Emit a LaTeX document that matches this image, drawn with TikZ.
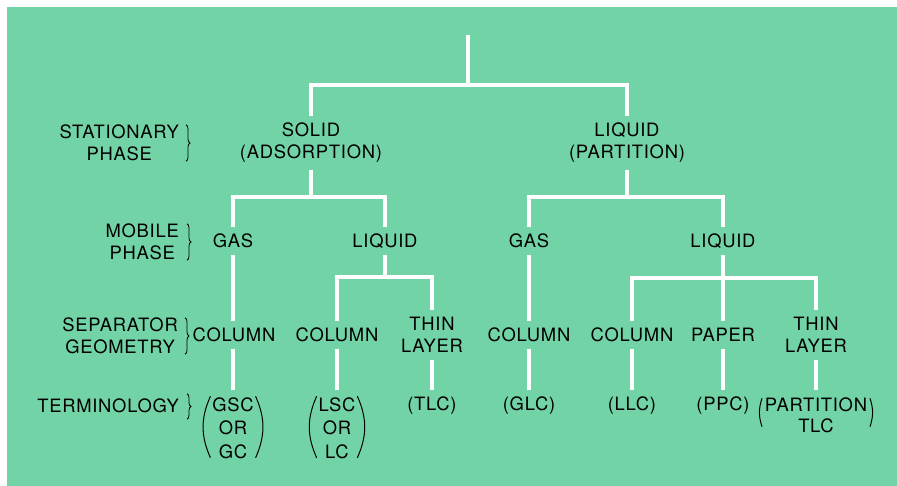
\documentclass[tikz,border=0pt]{standalone}
\usepackage{fontspec}
\setmainfont{TeX Gyre Heros}[LetterSpace=4]
\usepackage{xcolor}
\usetikzlibrary{decorations.pathreplacing}
\definecolor{bggreen}{RGB}{114,212,166}

\begin{document}
\begin{tikzpicture}[x=1pt,y=-1pt,
    every node/.style={font=\fontsize{18.4}{22}\selectfont, align=center, inner sep=0pt},
    item/.style={outer sep=7pt},
    side/.style={anchor=east},
    wire/.style={draw=white, line width=3.4pt},
    brc/.style={decorate, decoration={brace, amplitude=4pt}, line width=0.8pt},
    paren/.style={line width=1pt, line cap=round}]
      \useasboundingbox (0,0) rectangle (897,485);
      % page and green panel
      \fill[white] (0,0) rectangle (897,485);
      \fill[bggreen] (7,7) rectangle (905,495);

      % row titles
      \node[side] (stat) at (179,143) {STATIONARY\\PHASE};
      \node[side] (mob) at (179,242) {MOBILE\\PHASE};
      \node[side] (sep) at (178,336) {SEPARATOR\\GEOMETRY};
      \node[side] (term) at (179,406) {TERMINOLOGY};
      \draw[brc] ([xshift=7pt]stat.north east) -- ([xshift=7pt]stat.south east);
      \draw[brc] ([xshift=8pt]mob.north east) -- ([xshift=8pt]mob.south east);
      \draw[brc] ([xshift=7pt]sep.north east) -- ([xshift=7pt]sep.south east);
      \draw[brc] ([xshift=8pt,yshift=5pt]term.north east) -- ([xshift=8pt,yshift=-6pt]term.south east);

      % stationary phase
      \node[item] (sol) at (311,143) {SOLID\\(ADSORPTION)};
      \node[item] (liq) at (627,143) {LIQUID\\(PARTITION)};

      % mobile phase
      \node[item] (gas1) at (233,241) {GAS};
      \node[item] (liq1) at (385,241) {LIQUID};
      \node[item] (gas2) at (529,241) {GAS};
      \node[item] (liq2) at (723,241) {LIQUID};

      % separator geometry
      \node[item] (col1) at (234,335) {COLUMN};
      \node[item] (col2) at (337,335) {COLUMN};
      \node[item] (thin1) at (432,335) {THIN\\LAYER};
      \node[item] (col3) at (529,335) {COLUMN};
      \node[item] (col4) at (632,335) {COLUMN};
      \node[item] (pap) at (723,335) {PAPER};
      \node[item] (thin2) at (816,335) {THIN\\LAYER};

      % terminology
      \node[item, font=\fontsize{18.4}{23.5}\selectfont] (t1) at (233,428) {GSC\\OR\\GC};
      \node[item, font=\fontsize{18.4}{23.5}\selectfont] (t2) at (337,428) {LSC\\OR\\LC};
      \node[item] (t3) at (432,406) {(TLC)};
      \node[item] (t4) at (529,406) {(GLC)};
      \node[item] (t5) at (632,406) {(LLC)};
      \node[item] (t6) at (723,406) {(PPC)};
      \node[item, font=\fontsize{18.4}{21}\selectfont] (t7) at (816,415) {PARTITION\\TLC};

      % big brackets round the terminology
      \draw[paren] ([xshift=5pt,yshift=-6pt]t1.north west) to[bend right=24] ([xshift=5pt,yshift=8pt]t1.south west);
      \draw[paren] ([xshift=-5pt,yshift=-6pt]t1.north east) to[bend left=24] ([xshift=-5pt,yshift=8pt]t1.south east);
      \draw[paren] ([xshift=5pt,yshift=-6pt]t2.north west) to[bend right=24] ([xshift=5pt,yshift=8pt]t2.south west);
      \draw[paren] ([xshift=-5pt,yshift=-6pt]t2.north east) to[bend left=24] ([xshift=-5pt,yshift=8pt]t2.south east);
      \draw[paren] ([xshift=4pt,yshift=-8pt]t7.north west) to[bend right=18] ([xshift=4pt,yshift=13pt]t7.south west);
      \draw[paren] ([xshift=-4pt,yshift=-8pt]t7.north east) to[bend left=18] ([xshift=-4pt,yshift=13pt]t7.south east);

      % junctions
      \coordinate (top) at (468,35);
      \coordinate (j0) at (468,85);
      \coordinate (j1) at (311,197);
      \coordinate (j2) at (627,197);
      \coordinate (j3) at (385,277);
      \coordinate (j4) at (723,278);

      % tree
      \draw[wire] (top) -- (j0);
      \draw[wire] (sol.north) |- (j0) -| (liq.north);
      \draw[wire] (sol.south) -- (j1);
      \draw[wire] (gas1.north) |- (j1) -| (liq1.north);
      \draw[wire] (liq.south) -- (j2);
      \draw[wire] (gas2.north) |- (j2) -| (liq2.north);
      \draw[wire] (gas1.south) -- (gas1.south |- col1.north);
      \draw[wire] (gas2.south) -- (col3.north);
      \draw[wire] (liq1.south) -- (j3);
      \draw[wire] (col2.north) |- (j3) -| (thin1.north);
      \draw[wire] (liq2.south) -- (pap.north);
      \draw[wire] (col4.north) |- (j4) -| (thin2.north);
      \draw[wire] (col1.south -| t1.north) -- (t1.north);
      \draw[wire] (col2.south) -- (t2.north);
      \draw[wire] (thin1.south) -- (t3.north);
      \draw[wire] (col3.south) -- (t4.north);
      \draw[wire] (col4.south) -- (t5.north);
      \draw[wire] (pap.south) -- (t6.north);
      \draw[wire] (thin2.south) -- (t7.north);
\end{tikzpicture}
\end{document}
